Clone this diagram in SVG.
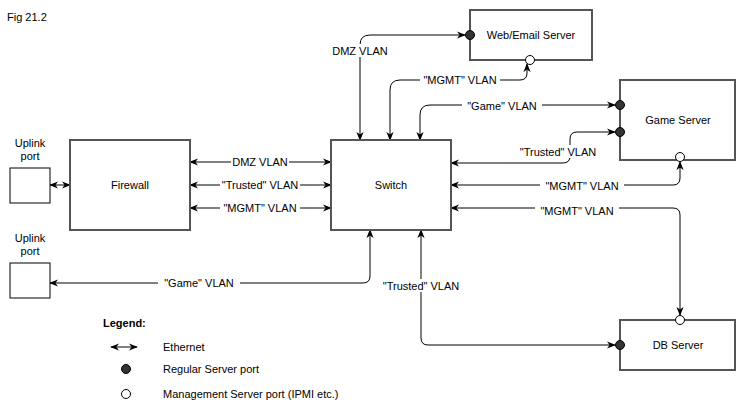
<svg xmlns="http://www.w3.org/2000/svg" width="742" height="405" viewBox="0 0 742 405">
<style>
text{font-family:"Liberation Sans",Arial,sans-serif;font-size:11px;fill:#000}
.box{fill:#fff;stroke:#555;stroke-width:2}
.small{fill:#fff;stroke:#000;stroke-width:1}
.c{fill:none;stroke:#000;stroke-width:1}
.lb{text-anchor:middle}
.bg{fill:#fff}
.fp{fill:#333;stroke:#000}
.op{fill:#fff;stroke:#000}
</style>
<defs>
<marker id="a" viewBox="0 0 10 10" refX="9" refY="5" markerWidth="9" markerHeight="9" orient="auto-start-reverse"><path d="M0,1 L10,5 L0,9 L3,5 Z" fill="#000"/></marker>
</defs>
<rect width="742" height="405" fill="#fff"/>
<text x="7" y="21">Fig 21.2</text>
<g id="connectors">
<path class="c" d="M50,185 H70" marker-start="url(#a)" marker-end="url(#a)"/>
<path class="c" d="M190,162 H331" marker-start="url(#a)" marker-end="url(#a)"/>
<path class="c" d="M190,185 H331" marker-start="url(#a)" marker-end="url(#a)"/>
<path class="c" d="M190,208 H331" marker-start="url(#a)" marker-end="url(#a)"/>
<path class="c" d="M360,140 V45 Q360,35 370,35 H465" marker-start="url(#a)" marker-end="url(#a)"/>
<path class="c" d="M390,140 V90 Q390,80 400,80 H520 Q527,80 527,73 V64" marker-start="url(#a)" marker-end="url(#a)"/>
<path class="c" d="M420,140 V115 Q420,105 430,105 H615" marker-start="url(#a)" marker-end="url(#a)"/>
<path class="c" d="M451,163 H563 Q570,163 570,156 V139 Q570,132 577,132 H615" marker-start="url(#a)" marker-end="url(#a)"/>
<path class="c" d="M451,185 H673 Q680,185 680,178 V162" marker-start="url(#a)" marker-end="url(#a)"/>
<path class="c" d="M451,208 H673 Q680,208 680,215 V315" marker-start="url(#a)" marker-end="url(#a)"/>
<path class="c" d="M421,230 V338 Q421,345 428,345 H615" marker-start="url(#a)" marker-end="url(#a)"/>
<path class="c" d="M370,230 V276 Q370,283 363,283 H50" marker-start="url(#a)" marker-end="url(#a)"/>
<rect class="bg" x="231" y="155" width="58" height="13"/><text class="lb" x="260" y="166">DMZ VLAN</text>
<rect class="bg" x="220" y="178" width="80" height="13"/><text class="lb" x="260" y="189">"Trusted" VLAN</text>
<rect class="bg" x="220" y="201" width="80" height="13"/><text class="lb" x="260" y="212">"MGMT" VLAN</text>
<rect class="bg" x="331" y="44" width="58" height="13"/><text class="lb" x="360" y="55">DMZ VLAN</text>
<rect class="bg" x="420" y="73" width="80" height="13"/><text class="lb" x="460" y="84">"MGMT" VLAN</text>
<rect class="bg" x="462" y="99" width="80" height="13"/><text class="lb" x="502" y="110">"Game" VLAN</text>
<rect class="bg" x="515" y="145" width="86" height="13"/><text class="lb" x="558" y="156">"Trusted" VLAN</text>
<rect class="bg" x="540" y="179" width="84" height="13"/><text class="lb" x="582" y="190">"MGMT" VLAN</text>
<rect class="bg" x="535" y="204" width="84" height="13"/><text class="lb" x="577" y="215">"MGMT" VLAN</text>
<rect class="bg" x="378" y="279" width="86" height="13"/><text class="lb" x="421" y="290">"Trusted" VLAN</text>
<rect class="bg" x="158" y="276" width="82" height="13"/><text class="lb" x="199" y="287">"Game" VLAN</text>
</g>
<g id="uplink1"><rect class="small" x="10" y="168" width="40" height="35"/><text class="lb" x="30" y="147">Uplink</text><text class="lb" x="30" y="160">port</text></g>
<g id="uplink2"><rect class="small" x="10" y="263" width="40" height="35"/><text class="lb" x="30" y="242">Uplink</text><text class="lb" x="30" y="255">port</text></g>
<g id="firewall"><rect class="box" x="70" y="140" width="120" height="90"/><text class="lb" x="130" y="189">Firewall</text></g>
<g id="switch"><rect class="box" x="331" y="140" width="120" height="90"/><text class="lb" x="391" y="189">Switch</text></g>
<g id="web"><rect class="box" x="470" y="10" width="122" height="50"/><text class="lb" x="531" y="39">Web/Email Server</text>
<circle class="fp" cx="470" cy="35" r="4.5"/><circle class="op" cx="530" cy="60" r="4.5"/></g>
<g id="game"><rect class="box" x="620" y="80" width="115" height="80"/><text class="lb" x="678" y="124">Game Server</text>
<circle class="fp" cx="620" cy="105" r="4.5"/><circle class="fp" cx="620" cy="132" r="4.5"/><circle class="op" cx="680" cy="157" r="4.5"/></g>
<g id="db"><rect class="box" x="620" y="320" width="115" height="50"/><text class="lb" x="678" y="349">DB Server</text>
<circle class="op" cx="680" cy="320" r="4.5"/><circle class="fp" cx="620" cy="345" r="4.5"/></g>
<g id="legend">
<text x="103" y="327" style="font-weight:bold">Legend:</text>
<path class="c" d="M111,347 H137" marker-start="url(#a)" marker-end="url(#a)"/>
<text x="163" y="351">Ethernet</text>
<circle class="fp" cx="126" cy="369" r="4.5"/><text x="163" y="373">Regular Server port</text>
<circle class="op" cx="126" cy="394" r="4.5"/><text x="163" y="398">Management Server port (IPMI etc.)</text>
</g>
</svg>
